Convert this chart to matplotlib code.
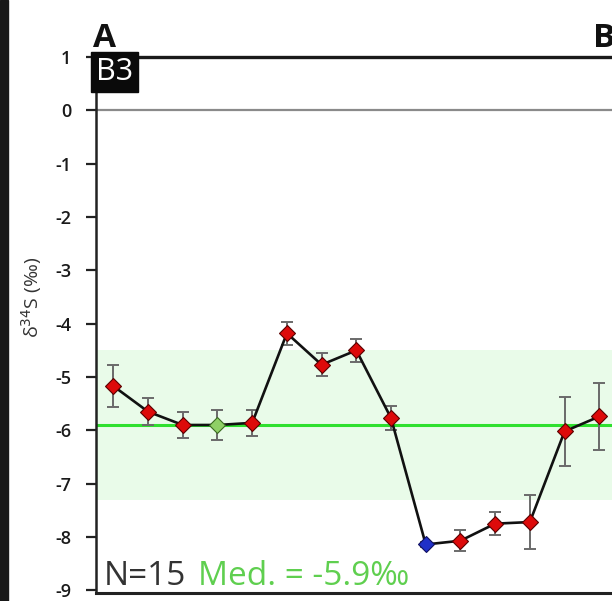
import matplotlib
matplotlib.use("Agg")
import matplotlib.pyplot as plt
from matplotlib.patches import Rectangle
import numpy as np

plt.rcParams["font.family"] = ["Open Sans", "DejaVu Sans"]

# sample index along the profile and d34S values (permil)
sample_idx = np.arange(1, 16)
d34s = [-5.17, -5.65, -5.90, -5.90, -5.86, -4.18, -4.77, -4.50, -5.77,
        -8.14, -8.07, -7.75, -7.72, -6.02, -5.74]
d34s_err = [0.39, 0.25, 0.25, 0.28, 0.25, 0.22, 0.22, 0.21, 0.23,
            0.05, 0.20, 0.21, 0.50, 0.64, 0.62]
point_colors = ["red", "red", "red", "green", "red", "red", "red", "red", "red",
                "blue", "red", "red", "red", "red", "red"]
median_val = -5.9
band_low, band_high = -7.3, -4.5
yticks = list(range(-9, 2))

COLOR_MAP = {"red": "#dd0a0a", "green": "#8fd066", "blue": "#2030c8"}
EDGE_MAP = {"red": "#5a0000", "green": "#3a6a20", "blue": "#101060"}

W, H = 612, 601
fig = plt.figure(figsize=(W / 100, H / 100), dpi=100)
fig.patches.append(Rectangle((0, 0), 8 / W, 1, transform=fig.transFigure,
                             color="#181818", zorder=0))

ax_left, ax_right = 96 / W, 634 / W
ax_bottom, ax_top = (H - 593) / H, (H - 57) / H
ax = fig.add_axes([ax_left, ax_bottom, ax_right - ax_left, ax_top - ax_bottom])
ax.set_xlim(0.5, 16.0)
ax.set_ylim(-9.05, 1.0)

ax.axhspan(band_low, band_high, color="#e9fbe9", zorder=0, lw=0)
ax.axhline(median_val, color="#2fe02f", lw=2.2, zorder=1)
ax.axhline(0, color="#8a8a8a", lw=1.6, zorder=1)

ax.errorbar(sample_idx, d34s, yerr=d34s_err, fmt="none", ecolor="#6a6a6a",
            elinewidth=1.4, capsize=4, capthick=1.4, zorder=2)
ax.plot(sample_idx, d34s, color="#111111", lw=1.9, zorder=3)
for x, y, c in zip(sample_idx, d34s, point_colors):
    ax.plot(x, y, marker="D", ms=7.8, color=COLOR_MAP[c], mec=EDGE_MAP[c],
            mew=0.8, zorder=4, ls="none")

ax.spines["right"].set_visible(False)
ax.spines["top"].set_linewidth(2.4)
ax.spines["top"].set_color("#1a1a1a")
ax.spines["left"].set_linewidth(1.8)
ax.spines["left"].set_color("#222222")
ax.spines["bottom"].set_linewidth(2.2)
ax.spines["bottom"].set_color("#222222")

ax.set_xticks([])
ax.set_yticks(yticks)
ax.set_yticklabels([str(t) for t in yticks], fontsize=13, color="#1a1a1a",
                   fontweight="semibold")
ax.tick_params(axis="y", direction="out", length=7, width=1.6, color="#222222",
               pad=11)
ax.set_ylabel("δ$^{34}$S (‰)", fontsize=14, color="#333333")
ax.yaxis.set_label_coords(-52 / (634 - 96), (593 - 297) / (593 - 57))

# panel letters
fig.text(93 / W, 1 - 47 / H, "A", fontsize=24, fontweight="bold", color="#111111")
fig.text(593 / W, 1 - 47 / H, "B", fontsize=24, fontweight="bold", color="#111111")

# B3 site tag
ax.text(0.5, 1.0, "B3", fontsize=22, color="white", ha="left", va="top",
        transform=ax.transData,
        bbox=dict(boxstyle="square,pad=0.16", fc="#0a0a0a", ec="#0a0a0a"))

# N and median annotation
ax.text(104 / W, 1 - 585 / H, "N=15", fontsize=24, color="#333333",
        transform=fig.transFigure, ha="left", va="baseline")
ax.text(198 / W, 1 - 585 / H, "Med. = -5.9‰", fontsize=24, color="#5fcf4f",
        transform=fig.transFigure, ha="left", va="baseline")

fig.savefig("out.png", dpi=100)
